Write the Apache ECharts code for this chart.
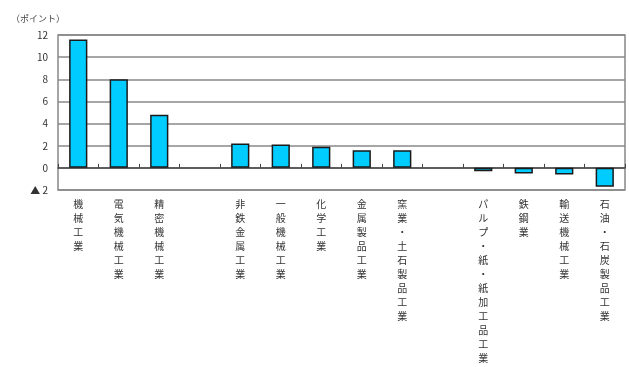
<!DOCTYPE html>
<html lang="ja">
<head>
  <meta charset="UTF-8">
  <title>業種別寄与度</title>
  <script src="https://cdn.jsdelivr.net/npm/echarts@6/dist/echarts.min.js"></script>
  <style>
    html, body { margin: 0; padding: 0; background: #fff; }
    #main { width: 629px; height: 367px; }
  </style>
</head>
<body>
  <div id="main"></div>
  <script>
    // 業種（空欄はグループの区切り）
    const categories = [
      '機械工業', '電気機械工業', '精密機械工業', '',
      '非鉄金属工業', '一般機械工業', '化学工業', '金属製品工業', '窯業・土石製品工業', '',
      'パルプ・紙・紙加工品工業', '鉄鋼業', '輸送機械工業', '石油・石炭製品工業'
    ];
    const values = [11.6, 8.0, 4.8, null, 2.2, 2.1, 1.9, 1.6, 1.6, null, -0.3, -0.5, -0.6, -1.7];
    const yTicks = [-2, 0, 2, 4, 6, 8, 10, 12];

    const font = '"Noto Sans CJK JP", sans-serif';
    const chart = echarts.init(document.getElementById('main'));

    chart.setOption({
      animation: false,
      title: {
        text: '（ポイント）',
        left: 6,
        top: 9,
        textStyle: { fontSize: 9, fontWeight: 'normal', color: '#444', fontFamily: font }
      },
      grid: {
        left: 58, right: 4, top: 35, bottom: 177,
        show: true, borderColor: '#888', borderWidth: 1.5
      },
      xAxis: [{
        type: 'category',
        data: categories,
        axisLine: { onZero: true, lineStyle: { color: '#444', width: 1.5 } },
        axisTick: { show: true, inside: true, interval: 0, length: 4, lineStyle: { color: '#444' } },
        axisLabel: { show: false }
      }, {
        type: 'category',
        data: categories,
        position: 'bottom',
        axisLine: { show: false, onZero: false },
        axisTick: { show: false },
        axisLabel: {
          interval: 0,
          margin: 7,
          fontSize: 10,
          lineHeight: 14,
          color: '#333',
          fontFamily: font,
          verticalAlign: 'top',
          formatter: v => v.split('').join('\n')
        }
      }],
      yAxis: {
        type: 'value',
        min: yTicks[0],
        max: yTicks[yTicks.length - 1],
        interval: 2,
        axisLine: { show: false },
        axisTick: { show: false },
        splitLine: { lineStyle: { color: '#888', width: 1.5 } },
        axisLabel: {
          fontSize: 10,
          color: '#333',
          margin: 10,
          fontFamily: font,
          formatter: v => v < 0 ? '▲ ' + (-v) : String(v)
        }
      },
      series: [{
        type: 'bar',
        xAxisIndex: 0,
        data: values,
        barWidth: '45%',
        itemStyle: { color: '#00ccff', borderColor: '#1a1a1a', borderWidth: 1.5 }
      }]
    });
  </script>
</body>
</html>
